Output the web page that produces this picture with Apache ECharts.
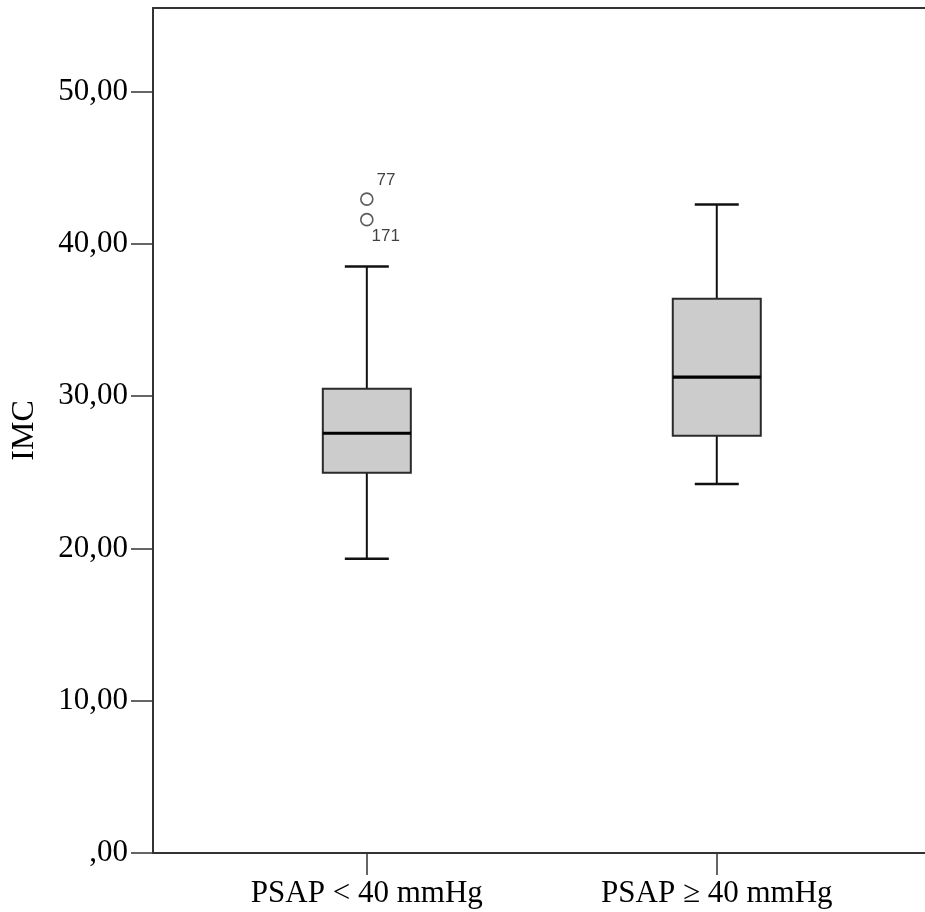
<!DOCTYPE html>
<html>
<head>
<meta charset="utf-8">
<script src="https://cdn.jsdelivr.net/npm/echarts@6/dist/echarts.min.js"></script>
<style>html,body{margin:0;padding:0;background:#fff}#c{width:925px;height:912px}</style>
</head>
<body>
<div id="c"></div>
<script>
const categories = ['PSAP < 40 mmHg', 'PSAP \u2265 40 mmHg'];
const whiskerLow = [19.33, 24.24];
const q1 = [24.97, 27.40];
const median = [27.57, 31.25];
const q3 = [30.49, 36.40];
const whiskerHigh = [38.52, 42.60];
const outlierGroup = [0, 0];
const outlierValues = [42.95, 41.60];
const outlierLabels = ['77', '171'];
const yTicks = [0, 10, 20, 30, 40, 50];

const serif = "'Liberation Serif', 'Times New Roman', serif";
const boxData = categories.map((c, i) => [i + 1, whiskerLow[i], q1[i], median[i], q3[i], whiskerHigh[i]]);
const labelOffsets = [[3, -19], [-2, 17]];
const outData = outlierValues.map((v, k) => ({
  value: [outlierGroup[k] + 1, v],
  label: { formatter: outlierLabels[k], offset: labelOffsets[k] }
}));

const chart = echarts.init(document.getElementById('c'), null, { renderer: 'canvas' });
chart.setOption({
  animation: false,
  backgroundColor: '#ffffff',
  grid: { left: 153, top: 8, width: 772, height: 845, show: false },
  xAxis: [{
    type: 'value', min: 0.389, max: 2.595,
    splitLine: { show: false },
    axisLine: { show: true, lineStyle: { color: '#333', width: 2 } },
    axisTick: { show: true, length: 22, customValues: [1, 2], lineStyle: { color: '#333', width: 1.5 } },
    axisLabel: {
      customValues: [1, 2], margin: 25,
      formatter: v => categories[Math.round(v) - 1] || '',
      fontFamily: serif, fontSize: 31, color: '#000'
    }
  }, {
    type: 'value', position: 'top', min: 0.389, max: 2.595,
    splitLine: { show: false },
    axisLine: { show: true, lineStyle: { color: '#333', width: 2 } },
    axisTick: { show: false }, axisLabel: { show: false }
  }],
  yAxis: {
    type: 'value', min: 0, max: 55.5,
    name: 'IMC', nameLocation: 'middle', nameGap: 112, nameRotate: 90,
    nameTextStyle: { fontFamily: serif, fontSize: 32, color: '#000' },
    splitLine: { show: false },
    axisLine: { show: true, lineStyle: { color: '#333', width: 2 } },
    axisTick: { show: true, length: 22, customValues: yTicks, lineStyle: { color: '#333', width: 1.5 } },
    axisLabel: {
      customValues: yTicks, margin: 25,
      formatter: v => v === 0 ? ',00' : v.toFixed(2).replace('.', ','),
      fontFamily: serif, fontSize: 31, color: '#000'
    }
  },
  series: [
    {
      type: 'custom',
      data: boxData,
      encode: { x: 0, y: [1, 2, 3, 4, 5] },
      renderItem: function (params, api) {
        const x = api.value(0);
        const pLow = api.coord([x, api.value(1)]);
        const pQ1 = api.coord([x, api.value(2)]);
        const pMed = api.coord([x, api.value(3)]);
        const pQ3 = api.coord([x, api.value(4)]);
        const pHigh = api.coord([x, api.value(5)]);
        const cx = pLow[0];
        const bw = 88, cw = 44;
        const wStyle = { stroke: '#111', lineWidth: 2 };
        return {
          type: 'group',
          children: [
            { type: 'line', shape: { x1: cx, y1: pLow[1], x2: cx, y2: pQ1[1] }, style: wStyle },
            { type: 'line', shape: { x1: cx, y1: pQ3[1], x2: cx, y2: pHigh[1] }, style: wStyle },
            { type: 'line', shape: { x1: cx - cw / 2, y1: pLow[1], x2: cx + cw / 2, y2: pLow[1] }, style: { stroke: '#111', lineWidth: 2.5 } },
            { type: 'line', shape: { x1: cx - cw / 2, y1: pHigh[1], x2: cx + cw / 2, y2: pHigh[1] }, style: { stroke: '#111', lineWidth: 2.5 } },
            { type: 'rect', shape: { x: cx - bw / 2, y: pQ3[1], width: bw, height: pQ1[1] - pQ3[1] }, style: { fill: '#cccccc', stroke: '#2a2a2a', lineWidth: 2 } },
            { type: 'line', shape: { x1: cx - bw / 2, y1: pMed[1], x2: cx + bw / 2, y2: pMed[1] }, style: { stroke: '#000', lineWidth: 3.2 } }
          ]
        };
      }
    },
    {
      type: 'scatter',
      data: outData,
      symbol: 'circle', symbolSize: 12,
      itemStyle: { color: '#fff', borderColor: '#333', borderWidth: 1.6 },
      label: { show: true, position: 'right', distance: 0, fontFamily: "'Liberation Sans', Arial, sans-serif", fontSize: 17, color: '#111' }
    }
  ]
});
</script>
</body>
</html>
